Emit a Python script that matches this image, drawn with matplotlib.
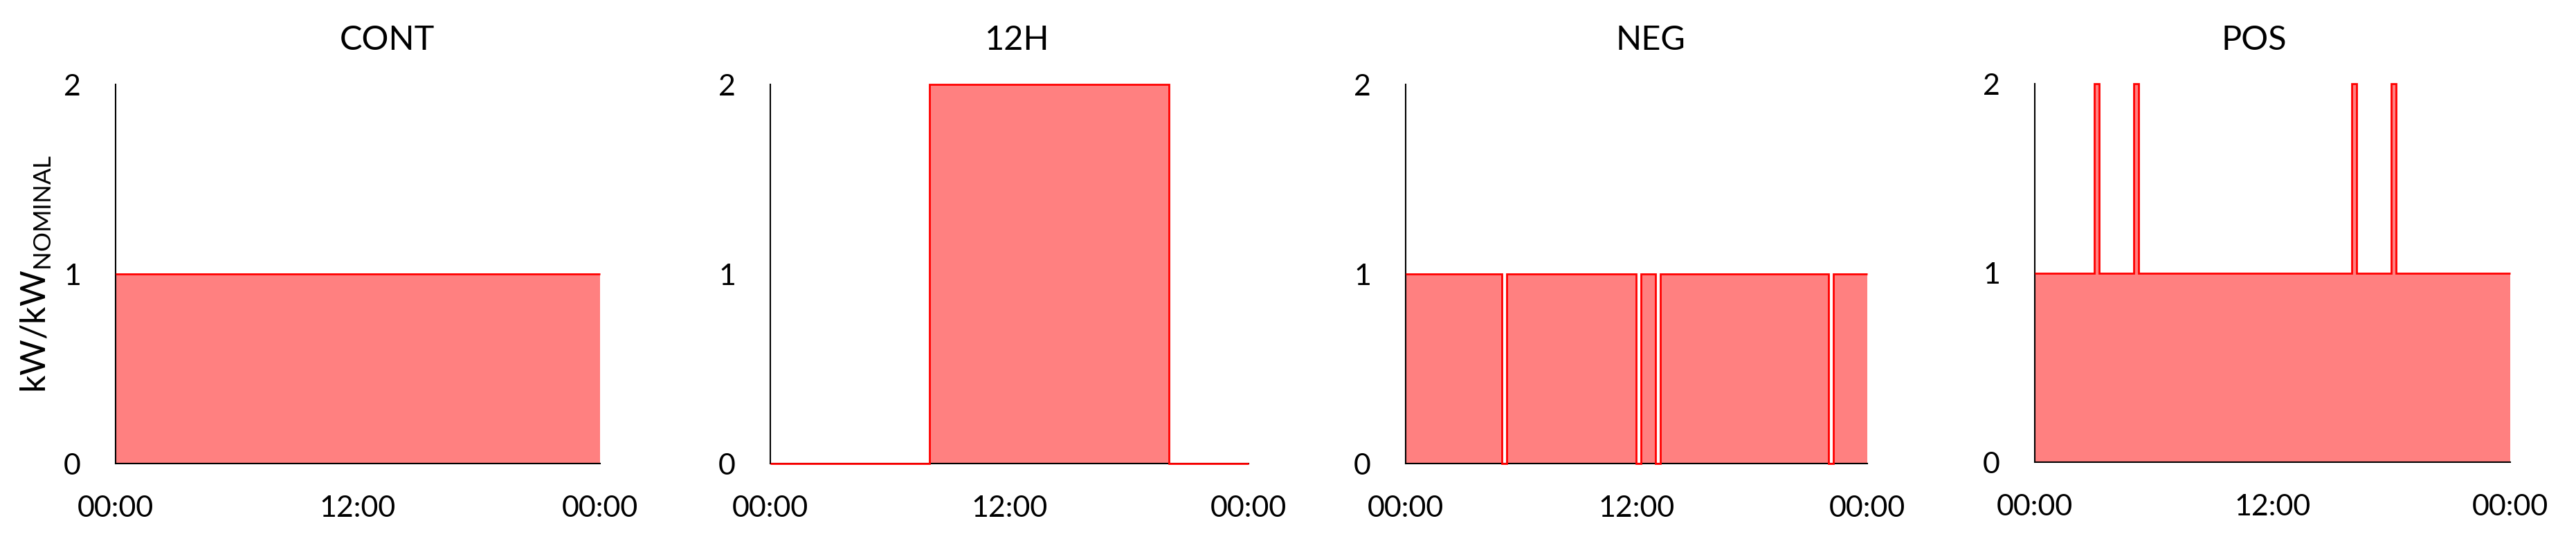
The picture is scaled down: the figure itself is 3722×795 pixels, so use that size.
import matplotlib
matplotlib.use("Agg")
import matplotlib.pyplot as plt

# ---- data (hours of day, step profiles) ----
titles = ["CONT", "12H", "NEG", "POS"]
cont_edges = [0, 24]
cont_vals = [1]
h12_edges = [0, 8, 20, 24]
h12_vals = [0, 2, 0]
neg_edges = [0, 5, 5.25, 12, 12.25, 13, 13.25, 22, 22.25, 24]
neg_vals = [1, 0, 1, 0, 1, 0, 1, 0, 1]
pos_edges = [0, 3, 3.25, 5, 5.25, 16, 16.25, 18, 18.25, 24]
pos_vals = [1, 2, 1, 2, 1, 2, 1, 2, 1]
x_ticks = [0, 12, 24]
x_ticklabels = ["00:00", "12:00", "00:00"]
y_ticks = [0, 1, 2]

series = [(cont_edges, cont_vals), (h12_edges, h12_vals),
          (neg_edges, neg_vals), (pos_edges, pos_vals)]

plt.rcParams['font.family'] = ['Lato', 'DejaVu Sans']
plt.rcParams['mathtext.fontset'] = 'custom'
plt.rcParams['mathtext.rm'] = 'Lato'

W, H = 3723, 795
fig = plt.figure(figsize=(W / 100, H / 100), dpi=100)

# axes boxes in pixels: left, right, top, bottom
boxes = [(167, 867, 122, 670), (1113, 1804, 122, 670),
         (2031, 2698, 122, 670), (2940, 3627, 121, 668)]
title_x = [559, 1470, 2385, 3257]

FILL = "#FF8080"
LINE = "#FF0000"

for i, ((l, r, t, b), (edges, vals)) in enumerate(zip(boxes, series)):
    ax = fig.add_axes([l / W, 1 - b / H, (r - l) / W, (b - t) / H])
    ax.stairs(vals, edges, fill=True, color=FILL, linewidth=0, zorder=1)
    ax.stairs(vals, edges, baseline=None, color=LINE, linewidth=2.0,
              zorder=3, clip_on=False)
    ax.set_xlim(0, 24)
    ax.set_ylim(0, 2)
    ax.set_xticks(x_ticks)
    ax.set_xticklabels(x_ticklabels)
    ax.set_yticks(y_ticks)
    ax.tick_params(axis='both', length=0, labelsize=31)
    ax.tick_params(axis='x', pad=33)
    ax.tick_params(axis='y', pad=36)
    for s in ['top', 'right']:
        ax.spines[s].set_visible(False)
    for s in ['left', 'bottom']:
        ax.spines[s].set_linewidth(1.5)
        ax.spines[s].set_color('black')
    fig.text(title_x[i] / W, 1 - 58 / H, titles[i], ha='center', va='center',
             fontsize=35)

fig.text(52 / W, 1 - 396 / H, r'kW/kW$_{\mathregular{NOMINAL}}$', rotation=90,
         ha='center', va='center', fontsize=36)

fig.savefig("out.png", dpi=100)
